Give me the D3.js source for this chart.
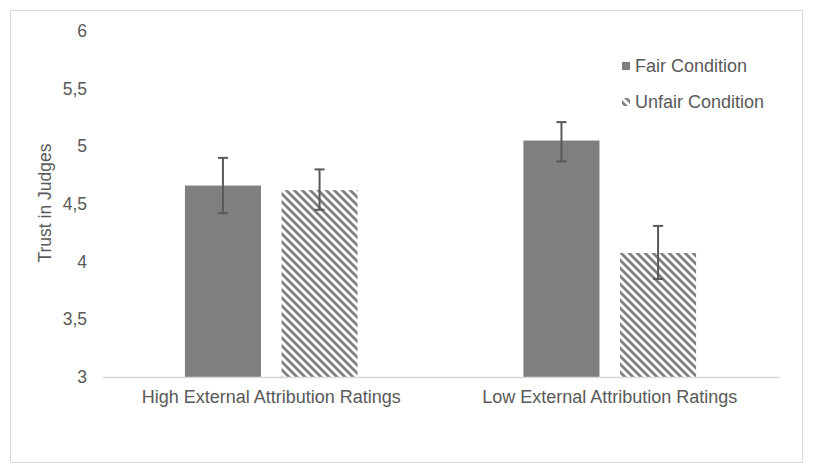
<!DOCTYPE html>
<html><head><meta charset="utf-8">
<script src="https://cdn.jsdelivr.net/npm/d3@7"></script>
<style>body{margin:0;background:#fff}svg{display:block}text{font-family:"Liberation Sans",Arial,sans-serif;fill:#595959}</style>
</head><body><svg id="c" width="813" height="473"></svg>
<script>
const categories = ["High External Attribution Ratings", "Low External Attribution Ratings"];
const series = ["Fair Condition", "Unfair Condition"];
const fairValues = [4.66, 5.05];
const unfairValues = [4.62, 4.075];
const fairErrLow = [4.42, 4.87];
const fairErrHigh = [4.90, 5.21];
const unfairErrLow = [4.45, 3.85];
const unfairErrHigh = [4.80, 4.31];
const yTicks = [3, 3.5, 4, 4.5, 5, 5.5, 6];
const yTickLabels = ["3", "3,5", "4", "4,5", "5", "5,5", "6"];

const FONT = "Liberation Sans, Arial, sans-serif";
const svg = d3.select("#c");
const defs = svg.append("defs");
const pat = defs.append("pattern").attr("id","hatch").attr("patternUnits","userSpaceOnUse")
  .attr("width",8).attr("height",8);
pat.append("rect").attr("width",8).attr("height",8).attr("fill","#fff");
pat.append("path").attr("d","M-2,6 L2,10 M-2,-2 L10,10 M6,-2 L10,2").attr("stroke","#7f7f7f").attr("stroke-width",2.8);

svg.append("rect").attr("x",10.5).attr("y",10.5).attr("width",792).attr("height",452)
  .attr("fill","#fff").attr("stroke","#d9d9d9");

const y = d3.scaleLinear().domain([3,6]).range([377,31]);
const x0 = d3.scaleBand().domain(categories).range([102,779]).paddingInner(0.49).paddingOuter(0.245);
const x1 = d3.scaleBand().domain(series).range([0,x0.bandwidth()]).paddingInner(0.213);

const data = categories.map((c,i)=>[
  {cat:c, s:series[0], v:fairValues[i], lo:fairErrLow[i], hi:fairErrHigh[i]},
  {cat:c, s:series[1], v:unfairValues[i], lo:unfairErrLow[i], hi:unfairErrHigh[i]}
]).flat();

// y axis labels
const yAxis = d3.axisLeft(y).tickValues(yTicks).tickFormat((d,i)=>yTickLabels[i]).tickSize(0).tickPadding(15);
const ga = svg.append("g").attr("transform","translate(102,0)").call(yAxis);
ga.select(".domain").remove();
ga.selectAll("text").attr("font-size",17.5).attr("fill","#595959").attr("font-family",FONT);

svg.selectAll("rect.bar").data(data).join("rect").attr("class","bar")
  .attr("x",d=>x0(d.cat)+x1(d.s)).attr("width",x1.bandwidth())
  .attr("y",d=>y(d.v)).attr("height",d=>y(3)-y(d.v))
  .attr("fill",d=>d.s===series[0]?"#7f7f7f":"url(#hatch)");

// x axis
const xAxis = d3.axisBottom(x0).tickSize(0).tickPadding(13);
const gx = svg.append("g").attr("transform","translate(0,377)").call(xAxis);
gx.select(".domain").attr("stroke","#d9d9d9").attr("stroke-width",1.5);
gx.selectAll("text").attr("font-size",18).attr("fill","#595959").attr("font-family",FONT);

// error bars
const cx = d=>x0(d.cat)+x1(d.s)+x1.bandwidth()/2;
const eb = svg.selectAll("g.eb").data(data).join("g").attr("class","eb")
  .attr("stroke","#595959").attr("stroke-width",2);
eb.append("line").attr("x1",cx).attr("x2",cx).attr("y1",d=>y(d.lo)).attr("y2",d=>y(d.hi));
eb.append("line").attr("x1",d=>cx(d)-5).attr("x2",d=>cx(d)+5).attr("y1",d=>y(d.hi)).attr("y2",d=>y(d.hi));
eb.append("line").attr("x1",d=>cx(d)-5).attr("x2",d=>cx(d)+5).attr("y1",d=>y(d.lo)).attr("y2",d=>y(d.lo));

// y title
svg.append("text").attr("transform","translate(51,203) rotate(-90)").attr("text-anchor","middle")
  .attr("font-size",17.5).attr("font-family",FONT).text("Trust in Judges");

// legend
const lg = svg.selectAll("g.lg").data(series).join("g").attr("class","lg")
  .attr("transform",(d,i)=>`translate(622,${66+i*36})`);
lg.append("rect").attr("x",0).attr("y",-4).attr("width",8).attr("height",8)
  .attr("fill",(d,i)=>i===0?"#7f7f7f":"url(#hatch)");
lg.append("text").attr("x",13).attr("y",0).attr("dy","0.35em").attr("font-size",18).attr("font-family",FONT).text(d=>d);
</script></body></html>
